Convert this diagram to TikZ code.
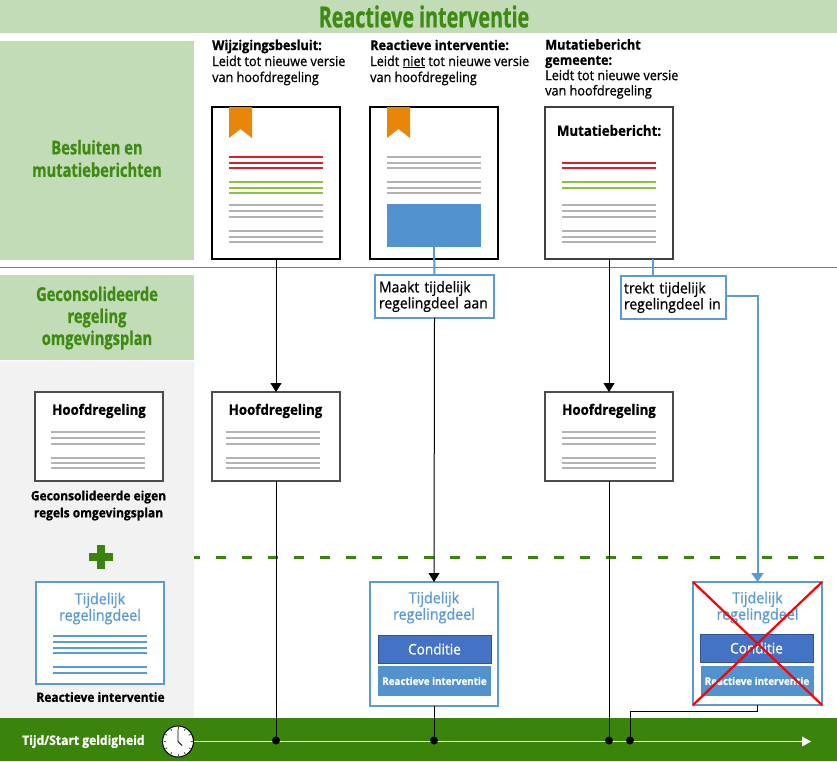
\documentclass[tikz,border=0pt]{standalone}
\usepackage{fontspec}
\usepackage{graphicx}
\setmainfont[FakeStretch=0.93,FakeBold=0.8,BoldFeatures={FakeStretch=0.93}]{Open Sans}
\usetikzlibrary{arrows.meta}
\definecolor{band}{HTML}{C2DCB8}
\definecolor{dgreen}{HTML}{3A840C}
\definecolor{tgreen}{HTML}{3F8A12}
\definecolor{lgrey}{HTML}{F2F2F2}
\definecolor{rule}{HTML}{B3B3B3}
\definecolor{lblue}{HTML}{5B9BD5}
\definecolor{mblue}{HTML}{5292CF}
\definecolor{dblue}{HTML}{4472C4}
\definecolor{dbord}{HTML}{2F5597}
\definecolor{org}{HTML}{E8850A}
\definecolor{rred}{HTML}{D7202A}
\definecolor{lime}{HTML}{8CC13F}
\definecolor{sep}{HTML}{559C30}
\tikzset{
  paneltxt/.style={text=tgreen,align=center,inner sep=0,font=\fontsize{19}{22.5}\selectfont\bfseries},
  head/.style={anchor=north west,align=left,inner sep=0,font=\fontsize{13.6}{16}\selectfont},
  docbox/.style={draw=black,line width=2pt,fill=white,minimum width=128pt,minimum height=152pt,inner sep=0,outer sep=0},
  greybox/.style={draw=black!70,line width=2pt,fill=white,minimum width=128pt,minimum height=89pt,inner sep=0,outer sep=0},
  bluebox/.style={draw=lblue,line width=2pt,fill=white,minimum width=128pt,inner sep=0,outer sep=0},
  callout/.style={draw=lblue,line width=2pt,fill=white,inner sep=0,outer sep=0,align=left,font=\fontsize{15}{16}\selectfont},
  doctitle/.style={font=\fontsize{14.3}{16}\selectfont\bfseries,inner sep=0},
  btitle/.style={font=\fontsize{15.4}{15}\selectfont,text=lblue,align=center,inner sep=0},
  cond/.style={fill=dblue,draw=dbord,line width=1pt,minimum width=113pt,minimum height=28pt,inner sep=0,text=white,font=\fontsize{14.6}{16}\selectfont},
  rint/.style={fill=mblue,draw=none,minimum width=113pt,minimum height=30pt,inner sep=0,text=white,font=\fontsize{10.5}{13}\selectfont\bfseries},
  captxt/.style={align=center,inner sep=0,font=\fontsize{12.9}{17}\selectfont\bfseries},
  gl/.style={draw=rule,line width=2pt},
  rl/.style={draw=rred,line width=2pt},
  al/.style={draw=lime,line width=2pt},
  bl/.style={draw=lblue,line width=2pt},
  conn/.style={draw=black,line width=1pt},
  connb/.style={draw=lblue,line width=2pt},
  ahead/.style={-{Triangle[length=9pt,width=11pt]}},
  aheadb/.style={-{Triangle[length=9pt,width=12pt]}},
  dot/.style={circle,fill=black,minimum size=8pt,inner sep=0}
}
\newcommand{\hlines}[4]{\foreach \yy in {#3}{\draw[#4] (#1,\yy) -- (#2,\yy);}}
\newcommand{\bookmarkshape}[2]{\fill[org] (#1,#2) -- ++(23,0) -- ++(0,31) -- ++(-11.5,-9) -- ++(-11.5,9) -- cycle;}
\begin{document}
\begin{tikzpicture}[x=1pt,y=-1pt]
\useasboundingbox (0,0) rectangle (837,761);
% backgrounds
\fill[band] (0,0) rectangle (837,33);
\node[text=tgreen,inner sep=0] (ttl) at (424,16.5) {\scalebox{0.73}[1]{\fontsize{29}{30}\selectfont\bfseries Reactieve interventie}};
\fill[band] (0,41) rectangle (194,260);
\node[paneltxt] (p1) at (97,158.5) {\scalebox{0.83}[1]{\parbox{180pt}{\centering Besluiten en\\mutatieberichten}}};
\draw[draw=sep,line width=1pt] (0,267.5) -- (837,267.5);
\fill[band] (0,275) rectangle (194,360);
\node[paneltxt,font=\fontsize{19}{22}\selectfont\bfseries] (p2) at (97,318) {\scalebox{0.83}[1]{\parbox{180pt}{\centering Geconsolideerde\\regeling\\omgevingsplan}}};
\fill[lgrey] (0,361) rectangle (194,718);
\fill[dgreen] (0,718) rectangle (837,761);
% dashed separator
\draw[draw=dgreen,line width=3pt,dash pattern=on 10pt off 16pt,dash phase=4.5pt] (194,557) -- (837,557);
% plus
\fill[dgreen] (96.5,545) rectangle (104.5,569);
\fill[dgreen] (88.5,553) rectangle (112.5,561);
% headers
\node[head] (h1) at (212,39.5) {\textbf{Wijzigingsbesluit:}\\Leidt tot nieuwe versie\\van hoofdregeling};
\node[head] (h2) at (370,39.5) {\textbf{Reactieve interventie:}\\Leidt \underline{niet} tot nieuwe versie\\van hoofdregeling};
\node[head,font=\fontsize{13.6}{15.3}\selectfont] (h3) at (545,39) {\textbf{Mutatiebericht}\\\textbf{gemeente:}\\Leidt tot nieuwe versie\\van hoofdregeling};
% documents
\node[docbox] (d1) at (276,183) {};
\node[docbox] (d2) at (434,183) {};
\node[docbox,draw=black!75] (d3) at (609,183) {};
\bookmarkshape{229}{107}
\bookmarkshape{387}{107}
\hlines{229}{323}{157,162.5,168}{rl}
\hlines{229}{323}{182,187.5,193}{al}
\hlines{229}{323}{205,211,216.5,231,236.5,242}{gl}
\hlines{387}{481}{157,162.5,168,182,187.5,193}{gl}
\node[fill=mblue,minimum width=94pt,minimum height=43pt,inner sep=0,outer sep=0] (bl2) at (434,225.5) {};
\node[doctitle] (mt) at (609,130.5) {Mutatiebericht:};
\hlines{562}{656}{162.5,168}{rl}
\hlines{562}{656}{182,187.5}{al}
\hlines{562}{656}{205,211,216.5,231,236.5,242}{gl}
% callouts
\node[callout,minimum width=119pt,minimum height=43pt,text width=111pt,inner xsep=4pt] (c1) at (434.5,296.5) {\raisebox{-1pt}{Maakt tijdelijk}\\\raisebox{-1pt}{regelingdeel aan}};
\node[callout,minimum width=105pt,minimum height=43pt,text width=99pt,inner xsep=3pt] (c2) at (673.5,297.5) {\raisebox{-1pt}{trekt tijdelijk}\\\raisebox{-1pt}{regelingdeel in}};
% hoofdregeling boxes
\node[greybox] (g0) at (99,436.5) {};
\node[greybox] (g1) at (276,436.5) {};
\node[greybox] (g3) at (609,436.5) {};
\node[doctitle] at (99,411) {Hoofdregeling};
\node[doctitle] at (275.5,411) {Hoofdregeling};
\node[doctitle] at (609,411) {Hoofdregeling};
\hlines{51}{145}{432,437.5,443.5,457.5,462.5,468}{gl}
\hlines{226}{320}{432,437.5,443.5,457.5,462.5,468}{gl}
\hlines{562}{656}{432,437.5,443.5,457.5,462.5,468}{gl}
\node[captxt] (cp1) at (98.5,505.5) {Geconsolideerde eigen\\regels omgevingsplan};
% tijdelijk boxes
\node[bluebox,minimum height=102pt] (b0) at (100,633) {};
\node[btitle] at (100,608.5) {Tijdelijk\\regelingdeel};
\hlines{53}{147}{636,642,647.5,653,667,673}{bl}
\node[captxt] (cp2) at (100.5,697) {Reactieve interventie};
\node[bluebox,minimum height=124pt] (b1) at (434,644) {};
\node[btitle] at (434,607.5) {Tijdelijk\\regelingdeel};
\node[cond] (k1) at (434.5,649) {Conditie};
\node[rint] (r1) at (434.5,681) {Reactieve interventie};
\node[bluebox,minimum height=123pt,minimum width=129pt] (b2) at (757.5,643.5) {};
\node[btitle] at (757.5,607.5) {Tijdelijk\\regelingdeel};
\node[cond] (k2) at (756.5,648) {Conditie};
\node[rint] (r2) at (757,681) {Reactieve interventie};
\draw[draw=red,line width=2.2pt] (b2.north west) -- (b2.south east);
\draw[draw=red,line width=2.2pt] (b2.north east) -- (b2.south west);
% time axis
\coordinate (axs) at (194,741.5);
\coordinate (axe) at (811,741.5);
\draw[draw=white,line width=1pt] (axs) -- (axe);
\fill[white] (811,741.5) -- (802,736.5) -- (802,746.5) -- cycle;
\node[text=white,inner sep=0,anchor=west,font=\fontsize{13}{14}\selectfont\bfseries] (tt) at (22,741.5) {Tijd/Start geldigheid};
\node[circle,draw=black,fill=white,line width=1pt,minimum size=31pt,inner sep=0] (clk) at (178,741.5) {};
\foreach \a in {0,30,...,330}{\draw[draw=black!70,line width=.8pt] (clk.center)++(\a:12.5) -- ++(\a:2);}
\draw[draw=black,line width=.8pt] (178,729) -- (178,741.5) -- (182,745.5);
\node[dot] (t1) at (276,740.5) {};
\node[dot] (t2) at (434,740.5) {};
\node[dot] (t3) at (609,740.5) {};
\node[dot] (t4) at (630,740.5) {};
% connectors
\draw[conn,ahead] (d1.south) -- (g1.north);
\draw[conn] (g1.south) -- (t1.center);
\draw[connb] (bl2.south) -- (c1.north);
\draw[conn,ahead] (c1.south) -- (b1.north);
\draw[conn] (b1.south) -- (t2.center);
\draw[conn,ahead] (d3.south) -- (g3.north);
\draw[conn] (g3.south) -- (t3.center);
\coordinate (cf) at (653,259);
\draw[connb] (cf) -- (cf |- c2.north);
\coordinate (cr) at (c2.east |- 0,296);
\draw[connb,aheadb] (cr) -- (b2.north |- cr) -- (b2.north);
\draw[conn] (b2.south) -- ++(0,6) -| (t4.center);
\end{tikzpicture}
\end{document}
